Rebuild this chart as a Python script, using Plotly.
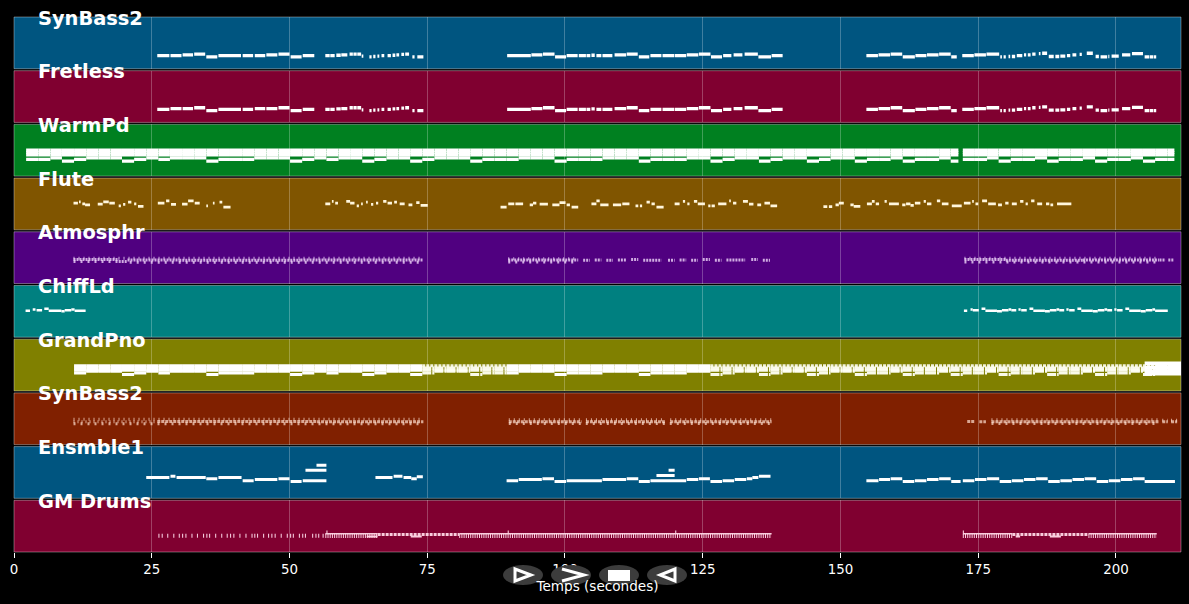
import plotly.graph_objects as go
from plotly.subplots import make_subplots

track_names = ["SynBass2", "Fretless", "WarmPd", "Flute", "Atmosphr", "ChiffLd",
               "GrandPno", "SynBass2", "Ensmble1", "GM Drums"]
track_colors = ["#005580", "#800030", "#008020", "#805500", "#500080", "#008080",
                "#808000", "#802000", "#005580", "#800030"]
x_ticks = [0, 25, 50, 75, 100, 125, 150, 175, 200]

# notes are (start seconds, end seconds, midi pitch)
bass_notes = [
    (26.0, 28.2, 32), (28.4, 30.4, 32), (30.6, 32.5, 34), (32.7, 34.7, 36), (34.9, 36.9, 29),
    (37.1, 41.2, 32), (41.5, 43.4, 32), (43.7, 45.6, 32), (45.8, 47.8, 34), (48.0, 50.0, 36),
    (50.2, 52.2, 29), (52.4, 54.5, 32),
    (56.5, 57.3, 32), (57.4, 58.2, 32), (58.5, 59.3, 33), (59.4, 60.5, 34), (60.9, 61.5, 36),
    (61.6, 62.2, 36), (62.3, 63.0, 36), (63.1, 63.4, 31), (64.5, 64.9, 29), (65.2, 65.6, 30),
    (65.96, 66.3, 31), (66.7, 67.2, 32), (67.8, 68.4, 32), (68.7, 69.2, 33), (69.4, 69.9, 34),
    (70.3, 70.8, 35), (71.0, 71.7, 36), (72.3, 72.7, 29), (73.2, 74.3, 29),
    (89.5, 93.8, 32), (93.9, 95.9, 34), (96.0, 98.1, 36), (98.2, 100.2, 29), (100.3, 102.3, 32),
    (102.5, 103.8, 32), (103.9, 104.6, 32), (104.8, 105.4, 33), (105.7, 106.6, 32),
    (106.8, 108.6, 32), (109.0, 111.1, 34), (111.2, 113.2, 36), (113.4, 115.3, 29),
    (115.5, 117.5, 32), (117.7, 119.8, 32), (119.9, 122.0, 32), (122.1, 124.2, 34),
    (124.3, 126.4, 36), (126.5, 128.5, 29), (128.7, 130.2, 32), (130.6, 132.2, 34),
    (132.6, 135.0, 36), (135.1, 137.4, 29), (137.5, 139.5, 32),
    (154.7, 156.8, 32), (156.9, 159.0, 34), (159.1, 161.2, 36), (161.3, 163.5, 29),
    (163.6, 165.6, 32), (165.7, 167.8, 34), (167.9, 170.0, 36), (170.1, 171.1, 29),
    (172.1, 174.2, 32), (174.3, 176.4, 34), (176.5, 178.8, 36),
    (179.0, 179.3, 29), (179.6, 180.0, 29), (180.5, 180.8, 30), (181.1, 181.7, 30),
    (182.0, 183.0, 32), (183.3, 183.7, 34), (184.0, 184.5, 34), (184.8, 185.4, 36),
    (186.0, 186.3, 37), (186.6, 187.5, 38), (187.8, 188.7, 30), (189.0, 189.7, 30),
    (189.9, 190.8, 31), (191.1, 191.7, 32), (192.1, 192.8, 34), (193.4, 193.8, 35),
    (194.7, 195.8, 38), (196.3, 196.9, 30), (197.2, 198.4, 29), (198.6, 198.8, 30),
    (199.2, 200.5, 31), (201.1, 202.6, 34), (202.9, 204.9, 37), (205.2, 206.0, 29),
    (206.1, 206.8, 29), (206.9, 207.3, 29),
]

# fretless doubles the bass, apart from a few notes at the top of the first phrase
fretless_changes = [(26.0, 28.2, 32), (28.4, 30.4, 34), (30.6, 32.5, 34), (43.7, 45.6, 34)]

beats_a = [2.2, 4.4, 6.6, 8.7, 10.9, 13.1, 15.3, 17.5, 19.6, 21.8,
           24.0, 26.2, 28.3, 30.5, 32.7, 34.9, 37.1, 39.2, 41.4, 43.6,
           45.8, 48.0, 50.1, 52.3, 54.5, 56.7, 58.9, 61.0, 63.2, 65.4,
           67.6, 69.8, 71.9, 74.1, 76.3, 78.5, 80.7, 82.8, 85.0, 87.2,
           89.4, 91.6, 93.7, 95.9, 98.1, 100.3, 102.5, 104.6, 106.8, 109.0,
           111.2, 113.4, 115.5, 117.7, 119.9, 122.1, 124.3, 126.4, 128.6, 130.8,
           133.0, 135.2, 137.3, 139.5, 141.7, 143.9, 146.1, 148.2, 150.4, 152.6,
           154.8, 157.0, 159.1, 161.3, 163.5, 165.7, 167.9, 170.0]
beats_b = [172.2, 174.4, 176.6, 178.7, 180.9, 183.1, 185.3, 187.5, 189.6,
           191.8, 194.0, 196.2, 198.4, 200.5, 202.7, 204.9, 207.1, 209.3]
chord_low_a = [42, 42, 46, 38, 42, 46, 46, 46, 38, 42,
               46, 42, 46, 46, 46, 38, 42, 42, 42, 46,
               46, 46, 38, 42, 46, 42, 46, 46, 38, 42,
               46, 46, 38, 42, 46, 46, 46, 38, 42, 42,
               42, 46, 46, 46, 38, 42, 42, 42, 46, 46,
               46, 38, 42, 42, 42, 46, 46, 38, 42, 46,
               46, 38, 42, 46, 46, 38, 42, 46, 46, 38,
               42, 42, 46, 38, 42, 42, 46, 38]
chord_low_b = [42, 42, 46, 38, 42, 42, 46, 38, 42, 42, 46, 38, 42, 42, 46, 38, 42, 42]
warm_upper = [64, 58, 52]
piano_upper = [62, 56, 51]
piano_end_notes = [(205.2, 211.8, 68), (205.2, 211.8, 58), (205.2, 211.8, 49), (205.2, 211.8, 42)]
piano_comb_spans = [(73.6, 89.0), (124.4, 205.2)]

flute_notes = [
    (10.8, 11.6, 65.5), (11.8, 12.1, 68.8), (12.4, 12.9, 63.9), (12.9, 13.8, 61.4),
    (15.2, 16.1, 63), (16.2, 17.2, 68.8), (17.3, 18.3, 65.5), (19.0, 19.4, 59),
    (19.8, 20.2, 62.3), (20.7, 21.3, 68), (21.8, 22.2, 63.9), (22.5, 23.5, 57.3),
    (26.1, 27.3, 65.5), (27.6, 28.2, 71), (28.5, 29.4, 62.3), (30.5, 31.5, 63),
    (31.6, 32.6, 71), (32.8, 33.7, 65.5), (34.9, 35.2, 59), (36.1, 36.4, 65.5),
    (37.3, 37.8, 68), (38.0, 39.3, 55.7),
    (56.5, 57.4, 63.9), (57.7, 58.0, 69.6), (58.3, 58.8, 65.5), (60.3, 61.0, 69.6),
    (61.0, 61.8, 65.5), (62.2, 62.6, 59), (63.0, 63.3, 63.9), (63.9, 64.2, 68),
    (64.8, 65.2, 62.3), (65.7, 66.1, 65.5), (67.0, 67.6, 69.6), (67.8, 68.6, 65.5),
    (69.0, 69.5, 68), (70.0, 70.9, 63.9), (71.6, 72.3, 61.4), (73.0, 73.6, 67),
    (73.8, 75.1, 59.8),
    (88.3, 89.4, 55.7), (89.7, 90.8, 63.9), (91.0, 92.4, 63.9), (93.6, 94.2, 61.4),
    (94.2, 94.8, 65.5), (95.4, 96.9, 63), (97.7, 99.0, 61.4), (99.0, 100.1, 67),
    (100.3, 100.9, 61.4), (101.2, 102.4, 55.7),
    (104.8, 105.7, 63.9), (105.7, 106.3, 71), (106.4, 107.9, 61.4), (108.7, 110.2, 61.4),
    (110.4, 111.7, 63.9), (112.8, 113.3, 59), (113.6, 114.0, 59), (114.8, 115.4, 68),
    (115.7, 116.3, 63.9), (116.6, 117.9, 55.7),
    (119.9, 120.8, 63.9), (121.4, 121.8, 69.6), (122.2, 122.6, 63.9), (123.4, 124.0, 69.6),
    (124.1, 125.4, 63.9), (126.0, 126.4, 59), (126.6, 127.2, 59), (127.8, 129.3, 63.9),
    (129.8, 130.1, 71), (130.5, 131.1, 65.5), (132.3, 133.2, 69.6), (133.4, 134.2, 63),
    (134.9, 135.6, 61.4), (136.2, 137.2, 65.5), (137.3, 138.5, 59),
    (146.9, 147.6, 57), (147.9, 148.5, 57), (149.1, 149.7, 61.4), (149.7, 150.6, 65.5),
    (151.8, 152.4, 61.4), (152.4, 153.6, 57.3),
    (154.8, 155.7, 63.9), (155.7, 156.2, 69.6), (156.4, 157.0, 63.9), (158.0, 158.4, 69.6),
    (158.8, 160.6, 63.9), (161.2, 161.8, 61.4), (161.9, 162.7, 63.9), (162.7, 163.3, 60),
    (163.5, 164.5, 65.5), (165.1, 165.5, 69.6), (165.7, 166.5, 63.9), (167.5, 168.1, 71),
    (168.4, 169.6, 63.9), (170.2, 172.0, 59), (172.4, 173.6, 65.5), (173.9, 174.2, 70),
    (174.5, 175.0, 63.9), (175.7, 176.6, 71), (176.8, 178.2, 63.9), (178.6, 179.3, 61),
    (179.9, 180.5, 65.5), (181.1, 182.0, 63.9), (182.6, 183.2, 70), (183.6, 184.0, 63.9),
    (184.6, 185.2, 71), (185.7, 186.6, 63.9), (187.3, 187.9, 63.9), (188.1, 188.6, 61.4),
    (189.3, 191.9, 63.9),
]

chiff_notes = [
    (2.1, 2.9, 65), (3.4, 3.9, 68), (4.1, 5.1, 66), (5.5, 6.3, 70), (6.3, 8.6, 65),
    (8.6, 9.2, 64), (9.2, 10.4, 66), (10.4, 11.0, 68), (11.0, 13.0, 65),
    (172.4, 173.0, 65), (173.6, 174.0, 68), (174.0, 175.1, 66), (175.6, 176.3, 70),
    (176.3, 178.4, 65), (178.4, 179.3, 64), (179.3, 180.5, 66), (180.5, 181.0, 68),
    (181.0, 181.9, 66), (182.3, 182.7, 68), (182.8, 183.8, 66), (184.3, 185.0, 70),
    (185.0, 187.1, 65), (187.1, 188.0, 64), (188.0, 189.2, 66), (189.2, 189.7, 68),
    (189.7, 190.6, 66), (191.0, 191.4, 68), (191.5, 192.5, 66), (193.0, 193.7, 70),
    (193.7, 195.8, 65), (195.8, 196.7, 64), (196.7, 197.9, 66), (197.9, 198.4, 68),
    (198.4, 199.3, 66), (199.7, 200.1, 68), (200.2, 201.2, 66), (201.7, 202.4, 70),
    (202.4, 204.5, 65), (204.5, 205.4, 64), (205.4, 206.6, 66), (206.6, 207.1, 68),
    (207.1, 209.4, 65),
]

# dense tracks are written as runs of fast notes
atmos_runs = [
    (10.8, 19.0, 59), (19.0, 20.6, 54), (20.6, 30.0, 58), (30.0, 52.0, 57), (52.0, 74.3, 58),
    (89.7, 102.4, 58), (103.3, 104.5, 57), (105.4, 106.6, 58), (107.5, 108.7, 57),
    (109.6, 111.1, 58), (112.0, 113.3, 59), (114.2, 117.5, 57), (118.7, 119.9, 57),
    (120.8, 122.0, 58), (122.9, 124.1, 57), (125.0, 126.3, 59), (127.2, 128.4, 57),
    (129.3, 132.7, 58), (133.8, 135.0, 59), (135.9, 137.2, 57),
    (172.5, 180.0, 59), (180.0, 194.0, 57), (194.0, 207.8, 58), (207.9, 209.0, 58),
    (209.5, 210.5, 58),
]
atmos_upper = [(10.8, 74.3, 62), (89.7, 102.4, 61), (172.5, 207.8, 62)]
atmos_lower = [(10.8, 19.0, 54), (21.0, 74.3, 52), (89.7, 102.4, 53), (172.5, 207.8, 53)]
rust_sparse = [(10.8, 26.0, 56)]
rust_runs = [
    (26.0, 55.0, 57), (55.0, 74.3, 56),
    (89.8, 103.0, 56), (103.8, 118.3, 56), (119.1, 137.5, 56),
    (173.0, 174.4, 57), (175.2, 176.4, 56), (177.4, 207.8, 56), (208.4, 209.4, 56),
    (210.0, 211.1, 56),
]
rust_upper = [(10.8, 74.3, 62), (89.8, 103.0, 61), (103.8, 118.3, 61), (119.1, 137.5, 61),
              (177.4, 207.8, 61), (208.4, 209.4, 60), (210.0, 211.1, 60)]
rust_lower = [(10.8, 74.3, 51), (89.8, 137.5, 52), (177.4, 207.8, 52)]

ensemble_notes = [
    (24.0, 28.2, 51), (28.4, 29.3, 54), (29.5, 34.8, 51), (34.9, 36.9, 48), (37.1, 41.3, 51),
    (41.5, 43.5, 43), (43.7, 47.8, 46), (48.0, 50.0, 48), (50.2, 52.2, 41), (52.4, 56.7, 43),
    (52.9, 56.7, 69), (54.9, 56.7, 81),
    (65.6, 68.7, 51), (68.9, 70.5, 54), (70.7, 72.1, 51), (72.1, 73.1, 48), (73.1, 74.2, 53),
    (89.4, 91.5, 43), (91.6, 95.8, 46), (95.9, 98.0, 48), (98.1, 100.2, 41), (100.3, 106.7, 43),
    (106.8, 111.1, 46), (111.2, 113.3, 48), (113.4, 115.4, 41), (115.5, 122.0, 43),
    (116.6, 119.9, 56), (118.8, 119.9, 69),
    (122.1, 124.2, 46), (124.3, 126.3, 48), (126.4, 128.5, 41), (128.6, 130.7, 43),
    (130.8, 132.9, 46), (133.0, 134.0, 48), (134.0, 135.1, 51), (135.2, 137.3, 54),
    (154.7, 156.9, 43), (157.0, 159.0, 46), (159.1, 161.2, 48), (161.3, 163.4, 41),
    (163.5, 165.6, 43), (165.7, 167.8, 46), (167.9, 170.0, 48), (170.1, 171.8, 41),
    (172.2, 174.3, 43), (174.4, 176.5, 46), (176.6, 178.8, 48), (178.9, 181.0, 41),
    (181.1, 183.2, 43), (183.3, 185.4, 46), (185.5, 187.6, 48), (187.7, 189.8, 41),
    (189.9, 192.0, 43), (192.1, 194.2, 46), (194.3, 196.4, 48), (196.5, 198.6, 41),
    (198.7, 200.8, 43), (200.9, 203.0, 46), (203.1, 205.2, 48), (205.2, 210.7, 41),
]

drum_hits = [26.2, 26.8, 27.8, 28.9, 29.9, 30.5, 31.1, 32.2, 33.2, 34.3, 34.9, 35.4, 36.5,
             37.6, 38.6, 39.2, 39.8, 40.9, 42.0, 43.1, 43.6, 44.1, 45.2, 46.1, 46.7, 47.3,
             48.4, 49.5, 50.1, 50.6, 51.7, 52.3, 52.8, 54.1, 54.7, 55.2, 56.0]
drum_comb_runs = [(56.5, 66.0, 39), (80.8, 137.5, 39), (172.2, 181.2, 39), (195.0, 207.4, 39)]
drum_top_runs = [(56.5, 66.0, 45), (80.8, 137.5, 45), (172.2, 181.2, 45), (195.0, 207.4, 45)]
drum_band_runs = [(66.0, 80.8, 43), (181.2, 195.0, 43)]
drum_dips = [(64.0, 66.0, 38), (72.0, 74.0, 38), (181.8, 182.6, 38), (188.0, 190.0, 38)]
drum_accents = [56.7, 89.6, 120.0, 172.2]

LEFT, RIGHT, TOP, BOTTOM = 14, 1181, 17, 552
PALE_ATMOS = "rgba(240,215,250,0.8)"
PALE_RUST = "rgba(255,225,210,0.7)"
PALE_DRUM = "rgba(255,215,230,0.95)"


def chord_notes(beats, lows, upper, last_end, low_shift=0):
    notes = []
    ends = beats[1:] + [last_end]
    for start, end, low in zip(beats, ends, lows):
        notes.append((start, end, low + low_shift))
        for p in upper:
            notes.append((start, end, p))
    return notes


def add_notes(fig, row, notes, width=3, color="white", dash=None):
    xs, ys = [], []
    for start, end, pitch in notes:
        xs += [start, end, None]
        ys += [pitch, pitch, None]
    fig.add_trace(go.Scatter(x=xs, y=ys, mode="lines", hoverinfo="skip",
                             line=dict(color=color, width=width, dash=dash)), row=row, col=1)


def paper_x(px):
    return (px - LEFT) / (RIGHT - LEFT)


def paper_y(py):
    return (BOTTOM - py) / (BOTTOM - TOP)


def button_path(points, close=True):
    parts = ["%s%.5f,%.5f" % ("M" if i == 0 else "L", paper_x(x), paper_y(y))
             for i, (x, y) in enumerate(points)]
    return " ".join(parts) + (" Z" if close else "")


fig = make_subplots(rows=10, cols=1, shared_xaxes=True, vertical_spacing=2 / (BOTTOM - TOP))

# fretless: same lines as the bass with its own first notes
changed = {n[0]: n for n in fretless_changes}
fretless_notes = [changed.get(n[0], n) for n in bass_notes]

add_notes(fig, 1, bass_notes, width=3.3)
add_notes(fig, 2, fretless_notes, width=3.3)

warm = chord_notes(beats_a, chord_low_a, warm_upper, 171.4, -1) + chord_notes(beats_b, chord_low_b, warm_upper, 210.6, -1)
add_notes(fig, 3, warm, width=3.2)

add_notes(fig, 4, flute_notes, width=2.7, color="#fff6dc")

add_notes(fig, 5, atmos_runs, width=3, color=PALE_ATMOS, dash="2px,1px")
add_notes(fig, 5, atmos_upper, width=3, color=PALE_ATMOS, dash="1px,4px")
add_notes(fig, 5, atmos_lower, width=3, color=PALE_ATMOS, dash="2px,5px")
add_notes(fig, 6, chiff_notes, width=2.5)

piano = chord_notes(beats_a[4:], chord_low_a[4:], piano_upper, 172.2, 2) + chord_notes(beats_b, chord_low_b, piano_upper, 211.8, 2)
piano_comb = [n for n in piano if any(a <= n[0] < b for a, b in piano_comb_spans)]
piano_solid = [n for n in piano if n not in piano_comb]
add_notes(fig, 7, piano_solid, width=3)
add_notes(fig, 7, [n for n in piano_comb if n[2] == piano_upper[0]], width=3,
          color="rgba(255,255,245,0.9)", dash="3px,1px")
add_notes(fig, 7, [n for n in piano_comb if n[2] != piano_upper[0]], width=3,
          color="rgba(255,255,245,0.95)", dash="9px,1px")
add_notes(fig, 7, piano_end_notes, width=3.5)

add_notes(fig, 8, rust_sparse, width=3, color=PALE_RUST, dash="1px,3px")
add_notes(fig, 8, rust_runs, width=3, color=PALE_RUST, dash="3px,1px")
add_notes(fig, 8, rust_upper, width=3, color=PALE_RUST, dash="1px,4px")
add_notes(fig, 8, rust_lower, width=3, color=PALE_RUST, dash="2px,5px")
add_notes(fig, 9, ensemble_notes)

add_notes(fig, 10, [(h, h + 0.2, 40) for h in drum_hits], width=4, color="rgba(255,220,235,0.9)")
add_notes(fig, 10, drum_comb_runs, width=4, color=PALE_DRUM, dash="1px,1.2px")
add_notes(fig, 10, drum_top_runs, width=1.5, color=PALE_DRUM)
add_notes(fig, 10, drum_band_runs, width=3, color=PALE_DRUM, dash="3px,1px")
add_notes(fig, 10, drum_dips, width=2, color=PALE_DRUM)
add_notes(fig, 10, [(a, a + 0.2, 50) for a in drum_accents], width=2.5, color=PALE_DRUM)

for i, (name, color) in enumerate(zip(track_names, track_colors)):
    suffix = "" if i == 0 else str(i + 1)
    fig.add_shape(type="rect", xref="x%s domain" % suffix, yref="y%s domain" % suffix,
                  x0=0, x1=1, y0=0, y1=1, fillcolor=color, layer="below",
                  line=dict(color="rgba(255,255,255,0.35)", width=1))
    fig.add_annotation(text="<b>%s</b>" % name, xref="x%s domain" % suffix, yref="y%s domain" % suffix,
                       x=22 / (RIGHT - LEFT), y=1, xanchor="left", yanchor="middle", yshift=-1,
                       showarrow=False, font=dict(family="DejaVu Sans", size=19.4, color="white"))

fig.update_xaxes(range=[0, 211.8], tickvals=x_ticks, showgrid=True,
                 gridcolor="rgba(255,255,255,0.25)", gridwidth=1, zeroline=False, showline=False,
                 ticks="", showticklabels=False)
fig.update_yaxes(range=[0, 127], showgrid=False, zeroline=False, showline=False,
                 showticklabels=False, ticks="")
fig.update_xaxes(row=10, col=1, ticks="outside", ticklen=5, tickcolor="white", tickwidth=1,
                 showticklabels=True, tickfont=dict(family="DejaVu Sans", size=13.4, color="white"),
                 title=dict(text="Temps (secondes)", standoff=5,
                            font=dict(family="DejaVu Sans", size=13.6, color="white")))

# player buttons sitting on top of the axis
for x0, x1 in [(503, 543), (551, 591), (599, 639), (647, 687)]:
    fig.add_shape(type="circle", xref="paper", yref="paper", x0=paper_x(x0), x1=paper_x(x1),
                  y0=paper_y(585), y1=paper_y(565), fillcolor="#3c3c3c", line=dict(width=0), layer="above")
fig.add_shape(type="path", xref="paper", yref="paper", layer="above",
              path=button_path([(515, 569), (531, 575), (515, 581)]),
              fillcolor="#3c3c3c", line=dict(color="white", width=3))
fig.add_shape(type="path", xref="paper", yref="paper", layer="above",
              path=button_path([(562, 569), (584, 575), (562, 581)], close=False),
              fillcolor="rgba(0,0,0,0)", line=dict(color="white", width=3))
fig.add_shape(type="rect", xref="paper", yref="paper", layer="above",
              x0=paper_x(608), x1=paper_x(630), y0=paper_y(581), y1=paper_y(570),
              fillcolor="white", line=dict(width=0))
fig.add_shape(type="path", xref="paper", yref="paper", layer="above",
              path=button_path([(675, 569), (660, 575), (675, 581)]),
              fillcolor="#3c3c3c", line=dict(color="white", width=3))

fig.update_layout(width=1189, height=604, showlegend=False,
                  paper_bgcolor="black", plot_bgcolor="black", hovermode=False,
                  margin=dict(l=LEFT, r=1189 - RIGHT, t=TOP, b=604 - BOTTOM))

# the page has a white body with a margin otherwise
fig.write_html("out.html", config={"displayModeBar": False},
               post_script="document.body.style.margin='0';document.body.style.background='black';")
